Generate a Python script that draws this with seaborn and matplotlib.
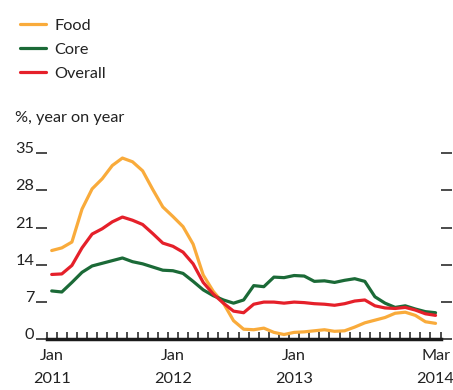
import pandas as pd
import matplotlib.pyplot as plt
import seaborn as sns

# monthly data, Jan 2011 - Mar 2014 (% year on year)
months = pd.date_range("2011-01-01", "2014-03-01", freq="MS")

food = [16.7, 17.2, 18.3, 24.5, 28.3, 30.2, 32.7, 34.1, 33.4, 31.7, 28.2, 24.9,
        23.1, 21.2, 17.9, 12.1, 9.0, 6.8, 3.5, 1.9, 1.8, 2.1, 1.3, 0.9,
        1.3, 1.4, 1.6, 1.8, 1.5, 1.6, 2.3, 3.1, 3.6, 4.1, 4.9, 5.1,
        4.5, 3.3, 3.0]
core = [9.1, 8.9, 10.7, 12.6, 13.8, 14.3, 14.8, 15.3, 14.6, 14.2, 13.6, 13.0,
        12.9, 12.4, 10.9, 9.3, 8.2, 7.4, 6.8, 7.4, 10.1, 9.9, 11.7, 11.6,
        12.0, 11.9, 10.9, 11.0, 10.7, 11.1, 11.4, 10.9, 8.0, 6.8, 6.0, 6.3,
        5.7, 5.2, 5.0]
overall = [12.2, 12.3, 13.9, 17.2, 19.8, 20.8, 22.1, 23.0, 22.4, 21.6, 19.9, 18.1,
           17.5, 16.4, 14.2, 10.7, 8.5, 6.8, 5.3, 5.0, 6.6, 7.0, 7.0, 6.8,
           7.0, 6.9, 6.7, 6.6, 6.4, 6.7, 7.2, 7.4, 6.3, 5.9, 5.8, 6.0,
           5.5, 4.8, 4.5]

series_names = ["Food", "Core", "Overall"]
colors = ["#f9ab3b", "#1b6a37", "#e5202a"]
yticks = [0, 7, 14, 21, 28, 35]
xtick_pos = [0, 12, 24, 38]
xtick_labels = ["Jan\n2011", "Jan\n2012", "Jan\n2013", "Mar\n2014"]

n = len(months)
df = pd.DataFrame({
    "idx": list(range(n)) * 3,
    "value": food + core + overall,
    "series": ["Food"] * n + ["Core"] * n + ["Overall"] * n,
})

sns.set_style("white")
plt.rcParams['font.family'] = ['Lato', 'DejaVu Sans']
fs = 11.7

fig = plt.figure(figsize=(4.53, 3.90), dpi=100)
ax = fig.add_axes([0.103, 0.130, 0.8696, 0.477])

sns.lineplot(data=df, x="idx", y="value", hue="series", hue_order=series_names,
             palette=colors, linewidth=2.3, ax=ax, legend=False)

ax.set_xlim(-0.5, n - 0.5)
ax.set_ylim(0, 35)
ax.set_xlabel("")
ax.set_ylabel("")

for side in ["left", "right", "top"]:
    ax.spines[side].set_visible(False)
ax.spines["bottom"].set_linewidth(2.5)
ax.spines["bottom"].set_color("#1a1a1a")

# y ticks: short marks both sides, labels sitting on the mark
ax.set_yticks(yticks)
ax.set_yticklabels([str(v) for v in yticks])
ax.tick_params(axis="y", left=True, right=True, direction="out", length=8,
               width=1.1, color="#1a1a1a", labelsize=fs, labelcolor="#222222", pad=1)
for lbl in ax.get_yticklabels():
    lbl.set_va("baseline")

# x ticks: monthly small inward marks, labels at mid-month
ax.set_xticks([i - 0.5 for i in range(n + 1)], minor=True)
ax.tick_params(axis="x", which="minor", bottom=True, direction="in", length=5,
               width=1.1, color="#1a1a1a")
ax.set_xticks(xtick_pos)
ax.set_xticklabels(xtick_labels, linespacing=1.8)
ax.tick_params(axis="x", which="major", bottom=False, length=0, labelsize=fs,
               labelcolor="#222222", pad=7)

# legend
handles = [plt.Line2D([], [], color=c, linewidth=2.3) for c in colors]
fig.legend(handles, series_names, loc="upper left", bbox_to_anchor=(0.012, 0.99),
           frameon=False, fontsize=fs, handlelength=1.6, handletextpad=0.5,
           labelspacing=0.6, labelcolor="#222222")

fig.text(0.033, 0.697, "%, year on year", fontsize=fs, color="#222222", va="center")

fig.savefig("out.png", dpi=100)
